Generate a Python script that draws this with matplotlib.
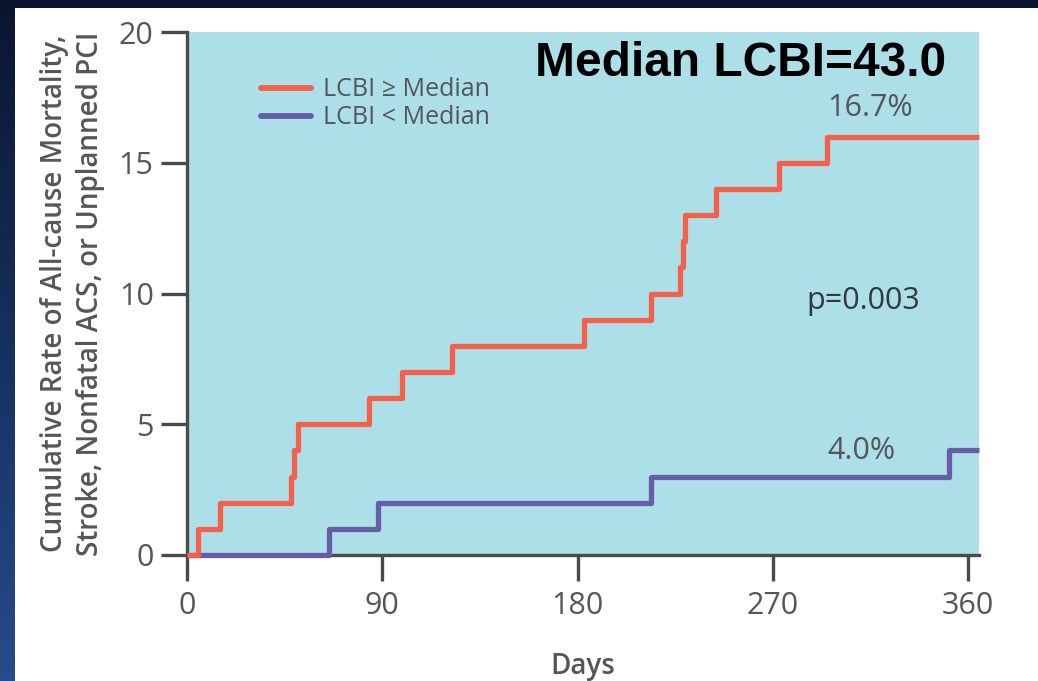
import matplotlib
matplotlib.use("Agg")
import matplotlib.pyplot as plt
import numpy as np
from matplotlib.lines import Line2D
from matplotlib.patches import Rectangle
from matplotlib.colors import LinearSegmentedColormap

# ---- data ----
high_days = [0, 5, 15, 48, 49.5, 51, 84, 99, 122, 183, 214, 227, 228.5, 229.5, 244, 273, 295, 365]
high_vals = [0, 1, 2, 3, 4, 5, 6, 7, 8, 9, 10, 11, 12, 13, 14, 15, 16, 16]
low_days = [0, 65.5, 88, 214, 351, 365]
low_vals = [0, 1, 2, 3, 4, 4]
x_ticks = [0, 90, 180, 270, 360]
y_ticks = [0, 5, 10, 15, 20]
series_labels = ["LCBI \u2265 Median", "LCBI < Median"]
end_labels = ["16.7%", "4.0%"]
p_label = "p=0.003"
title_text = "Median LCBI=43.0"

W, H = 1038, 681
fig = plt.figure(figsize=(W / 100, H / 100), dpi=100)
fig.patch.set_facecolor("#0b1732")

# slide background gradient
bg = fig.add_axes([0, 0, 1, 1], zorder=-10)
cmap = LinearSegmentedColormap.from_list("bg", ["#0a1530", "#16305e", "#274b8c"])
grad = np.linspace(0, 1, 256).reshape(-1, 1)
bg.imshow(grad, aspect="auto", cmap=cmap, extent=[0, 1, 0, 1], origin="upper")
bg.add_patch(Rectangle((15 / W, 0), 1 - 15 / W, 1 - 8 / H, facecolor="white", edgecolor="none"))
bg.set_xlim(0, 1)
bg.set_ylim(0, 1)
bg.axis("off")

left, right = 187 / W, 979 / W
bottom, top = 1 - 555 / H, 1 - 32 / H
ax = fig.add_axes([left, bottom, right - left, top - bottom])
ax.set_facecolor("#addfe8")

red = "#f4604a"
purple = "#675ca6"
gray = "#555659"

ax.step(low_days, low_vals, where="post", color=purple, lw=3.8, solid_capstyle="butt",
        zorder=3, clip_on=False)
ax.step(high_days, high_vals, where="post", color=red, lw=3.8, solid_capstyle="butt",
        zorder=4, clip_on=False)

ax.set_xlim(0, 365)
ax.set_ylim(0, 20)
ax.set_xticks(x_ticks)
ax.set_yticks(y_ticks)

for s in ["top", "right"]:
    ax.spines[s].set_visible(False)
for s in ["left", "bottom"]:
    ax.spines[s].set_color("#4a4a4c")
    ax.spines[s].set_linewidth(2.4)
    ax.spines[s].set_zorder(2.5)

ax.tick_params(axis="both", direction="out", length=19, width=2.4, color="#4a4a4c",
               labelsize=22, labelcolor=gray)
ax.tick_params(axis="x", pad=7)
ax.tick_params(axis="y", pad=5)
for lab in ax.get_xticklabels() + ax.get_yticklabels():
    lab.set_fontfamily("Open Sans")

ax.set_ylabel("Cumulative Rate of All-cause Mortality,\nStroke, Nonfatal ACS, or Unplanned PCI",
              fontsize=20, color=gray, family="Open Sans", fontweight="semibold", labelpad=10,
              linespacing=1.3)
ax.set_xlabel("Days", fontsize=20, color=gray, family="Open Sans", fontweight="semibold", labelpad=22)

handles = [Line2D([0], [0], color=red, lw=4.2, solid_capstyle="round"),
           Line2D([0], [0], color=purple, lw=4.2, solid_capstyle="round")]
leg = ax.legend(handles, series_labels, loc="upper left", bbox_to_anchor=(0.075, 0.942),
                frameon=False, handlelength=2.0, handletextpad=0.45, labelspacing=0.12,
                borderaxespad=0.2, prop={"family": "Open Sans", "size": 18})
for t in leg.get_texts():
    t.set_color(gray)

ax.text(295, 17.1, end_labels[0], fontsize=22, color=gray, family="Open Sans", va="center", ha="left")
ax.text(295, 3.96, end_labels[1], fontsize=22, color=gray, family="Open Sans", va="center", ha="left")
ax.text(285.5, 9.7, p_label, fontsize=22, color="#37383a", family="Open Sans",
        va="center", ha="left")

fig.text(535 / W, 1 - 63 / H, title_text, fontsize=34.5, fontweight="bold",
         family="Liberation Sans", color="black", ha="left", va="center")

fig.savefig("out.png", dpi=100, facecolor=fig.get_facecolor())
